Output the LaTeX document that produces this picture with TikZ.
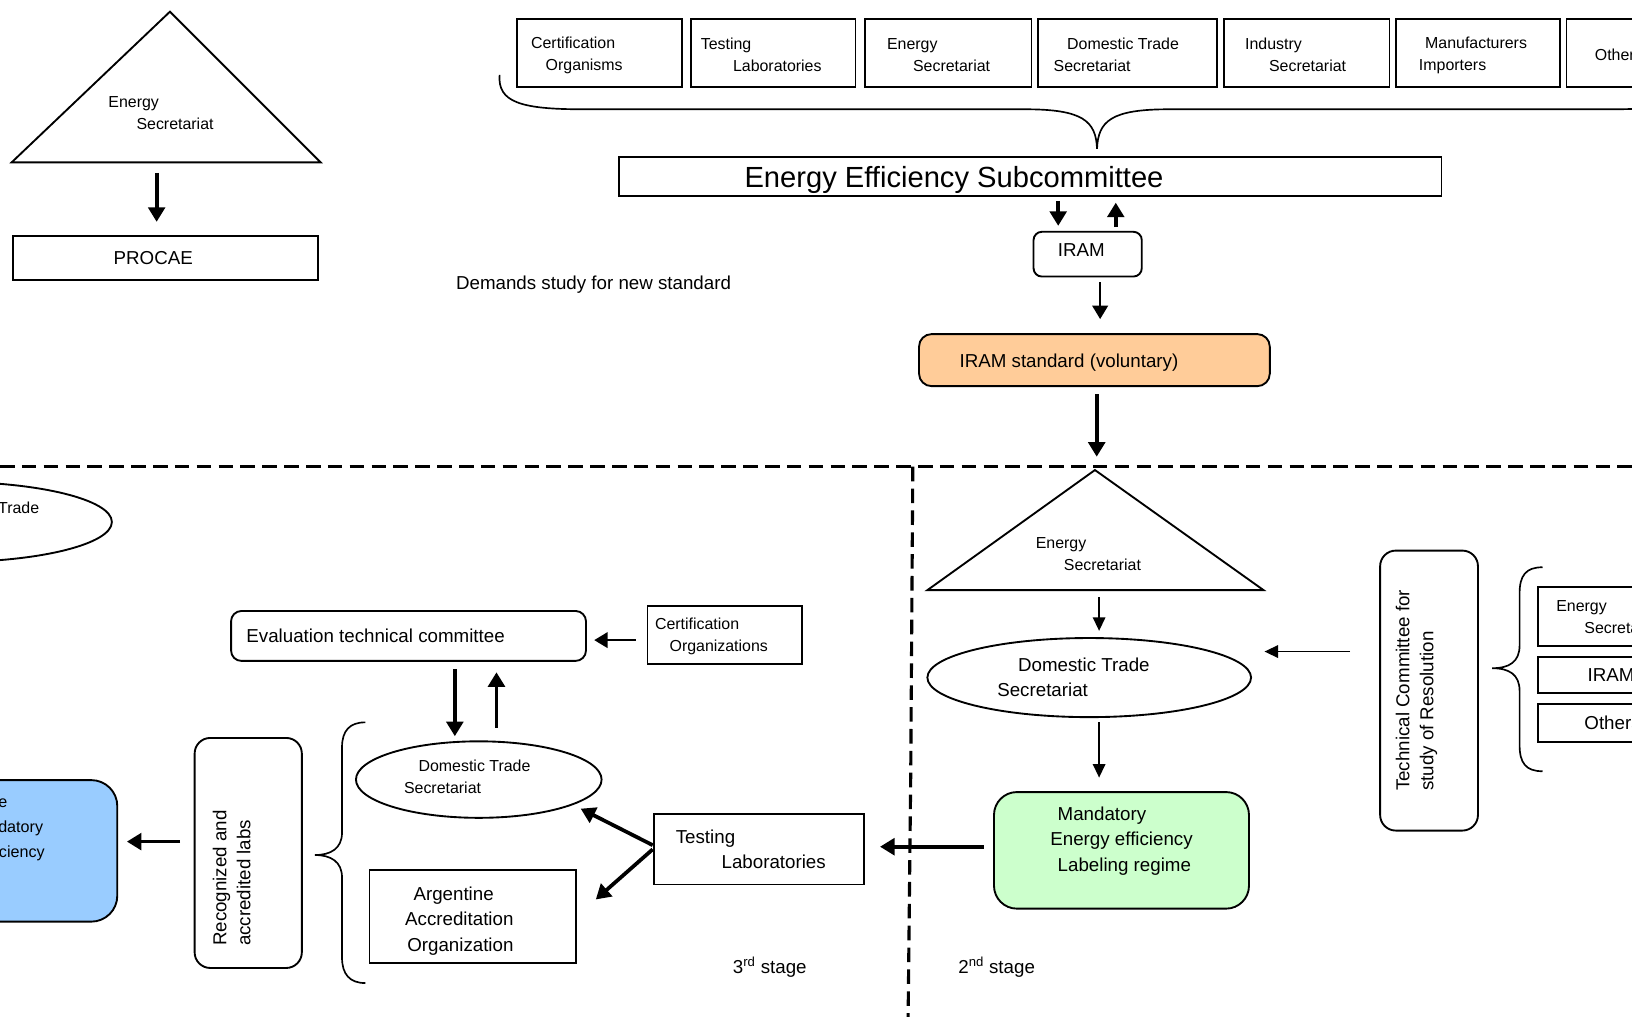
\documentclass[tikz,border=0pt]{standalone}
\usepackage{fontspec}
\setmainfont{Liberation Sans}
\usetikzlibrary{arrows.meta,positioning,shapes.geometric}

\definecolor{iramorange}{HTML}{FFCC99}
\definecolor{regimegreen}{HTML}{CCFFCC}
\definecolor{labblue}{HTML}{99CCFF}

\newcommand\smalltext{\fontsize{15.3}{21}\selectfont}
\newcommand\midtext{\fontsize{18}{24.5}\selectfont}
\newcommand\sidetext{\fontsize{18}{23}\selectfont}
\newcommand\titletext{\fontsize{28}{32}\selectfont}

\tikzset{
  frame/.style={draw, line width=1.8pt, inner sep=0pt},
  rframe/.style={frame, rounded corners=#1},
  oval/.style={draw, ellipse, line width=1.8pt, inner sep=0pt},
  stxt/.style={inner sep=0pt, align=left, font=\smalltext},
  mtxt/.style={inner sep=0pt, align=left, font=\midtext},
  vtxt/.style={inner sep=0pt, align=left, font=\sidetext, rotate=90, anchor=west},
  fat/.style={line width=3.6pt, -{Triangle[length=14pt,width=16pt]}},
  midarrow/.style={line width=2.2pt, -{Triangle[length=13pt,width=15pt]}},
  slim/.style={line width=1.5pt, -{Triangle[length=13pt,width=12pt]}},
  stageline/.style={line width=3pt, dash pattern=on 14pt off 7pt},
  brace/.style={line width=1.6pt},
}

\begin{document}
\begin{tikzpicture}[x=1pt,y=-1pt]
\useasboundingbox (0,0) rectangle (1568,977);
\clip (0,0) rectangle (1568,977);
\fill[white] (0,0) rectangle (1568,977);

% energy secretariat -> PROCAE
\coordinate (tA1) at (163.3,11.2);
\coordinate (tL1) at (11.2,156);
\coordinate (tR1) at (308,156);
\coordinate (tB1) at (150.5,156);
\draw[line width=1.8pt] (tL1) -- (tA1) -- (tR1) -- cycle;
\node[stxt, anchor=west] (es1) at (104,108.5) {Energy\\\hspace*{27pt}Secretariat};
\node[frame, minimum width=293pt, minimum height=42.5pt] (procae) at (159.4,247.8) {};
\node[mtxt, right=97pt of procae.west] (procaetxt) {PROCAE};
\draw[fat, shorten >=12.5pt] ([yshift=-10pt]tB1) -- (tB1 |- procae.north);

% members of the subcommittee
\foreach \nm/\cx/\w/\pad/\lbl in {
  cert/576/158/14/{Certification\\\hspace*{14pt}Organisms},
  test/743/158/10/{Testing\\\hspace*{31pt}Laboratories},
  ensec/911/160/22/{Energy\\\hspace*{25pt}Secretariat},
  dtsec/1083/172/16/{\hspace*{13pt}Domestic Trade\\Secretariat},
  indsec/1255.5/159/21/{Industry\\\hspace*{23pt}Secretariat},
  manuf/1420/158/23/{\hspace*{6pt}Manufacturers\\Importers},
  others/1584/158/28/{Others}}{
  \node[frame, minimum width=\w pt, minimum height=66pt] (\nm) at (\cx,51) {};
  \node[stxt, right=\pad pt of \nm.west, yshift=-2pt] (\nm txt) {\lbl};
}
\draw[brace] (480,72) .. controls (478,98) and (500,105) .. (560,105) -- (985,105)
  .. controls (1040,105) and (1053,116) .. (1054,143)
  .. controls (1055,116) and (1068,105) .. (1123,105) -- (1548,105)
  .. controls (1608,105) and (1630,98) .. (1628,72);

\node[frame, minimum width=790pt, minimum height=37pt] (subc) at (990,169.5) {};
\node[inner sep=0pt, font=\titletext, right=121pt of subc.west, yshift=-3pt] (subctxt) {Energy Efficiency Subcommittee};

\node[rframe=8pt, minimum width=104pt, minimum height=43pt] (iram) at (1045,244.2) {};
\node[mtxt, right=24pt of iram.west, yshift=4pt] (iramtxt) {IRAM};
\draw[fat, shorten <=4pt, shorten >=4.8pt] ([xshift=26.7pt]subc.south) -- ([xshift=26.7pt]subc.south |- iram.north);
\draw[fat, shorten <=3.6pt, shorten >=5.8pt] ([xshift=27pt]iram.north) -- ([xshift=27pt]iram.north |- subc.south);

\node[mtxt, anchor=west] (demand) at (438,273.5) {Demands study for new standard};

\node[rframe=12pt, fill=iramorange, minimum width=337pt, minimum height=50pt] (std) at (1051.5,346) {};
\node[mtxt, right=39.7pt of std.west, yshift=-2.5pt] (stdtxt) {IRAM standard (voluntary)};
\draw[midarrow, shorten <=4.8pt, shorten >=13.5pt] ([xshift=12pt]iram.south) -- ([xshift=12pt]iram.south |- std.north);

% stage borders
\coordinate (sepL) at (0,448.4);
\coordinate (sepR) at (1568,448.4);
\coordinate (sepT) at (877,448.4);
\coordinate (sepK) at (875,745);
\coordinate (sepB) at (872.5,977);
\draw[stageline] (sepL) -- (sepR);
\draw[stageline] (sepT) -- (sepK) -- (sepB);

% 2nd stage
\coordinate (tA2) at (1052,451.6);
\coordinate (tL2) at (891,567);
\coordinate (tR2) at (1214,567);
\coordinate (tB2) at (1056,567);
\draw[line width=1.8pt] (tL2) -- (tA2) -- (tR2) -- cycle;
\draw[fat, shorten <=6.7pt, shorten >=12.8pt] ([xshift=2.2pt]std.south) -- ([xshift=2.2pt]std.south |- tA2);
\node[stxt, anchor=west] (es2) at (995,532.5) {Energy\\\hspace*{27pt}Secretariat};

\node[oval, minimum width=311pt, minimum height=76pt] (dts2) at (1046.5,651) {};
\node[mtxt, anchor=west] (dts2txt) at (958,650.5) {\hspace*{20pt}Domestic Trade\\Secretariat};
\draw[slim, shorten >=6pt] ([yshift=-7pt]tB2) -- (tB2 |- dts2.north);

\node[rframe=22pt, fill=regimegreen, minimum width=245pt, minimum height=112pt] (regime) at (1077.5,817) {};
\node[mtxt, anchor=west] (regimetxt) at (1009,808) {\hspace*{7pt}Mandatory\\Energy efficiency\\\hspace*{7pt}Labeling regime};
\draw[slim, shorten <=4pt, shorten >=13pt] ([xshift=9.5pt]dts2.south) -- ([xshift=9.5pt]dts2.south |- regime.north);

\node[rframe=15pt, minimum width=94pt, minimum height=269pt] (tcr) at (1373,663.5) {};
\node[vtxt] (tcrtxt) at (1361,760) {Technical Committee for\\study of Resolution};
\draw[slim, shorten <=28pt, shorten >=12pt] ([yshift=37.5pt]tcr.west) -- ([yshift=37.5pt]tcr.west -| dts2.east);

\draw[brace] (1482,545) .. controls (1466,545) and (1460,553) .. (1460,570) -- (1460,620)
  .. controls (1460,636) and (1450,642) .. (1433.5,642)
  .. controls (1450,642) and (1460,648) .. (1460,664) -- (1460,716)
  .. controls (1460,733) and (1466,741) .. (1482,741);
\node[frame, minimum width=150pt, minimum height=57pt] (resE) at (1553,592.5) {};
\node[stxt, right=18pt of resE.west] (resEtxt) {Energy\\\hspace*{27pt}Secretariat};
\node[frame, minimum width=150pt, minimum height=35pt] (resI) at (1553,648.5) {};
\node[mtxt, right=48pt of resI.west] (resItxt) {IRAM};
\node[frame, minimum width=150pt, minimum height=37pt] (resO) at (1553,694.5) {};
\node[mtxt, right=45pt of resO.west] (resOtxt) {Others};

\node[frame, minimum width=202pt, minimum height=67.5pt] (testlab) at (729,816) {};
\node[mtxt, right=22pt of testlab.west] (testlabtxt) {Testing\\\hspace*{44pt}Laboratories};
\draw[fat, shorten <=9pt, shorten >=14.6pt] ([yshift=3.5pt]regime.west) -- ([yshift=3.5pt]regime.west -| testlab.east);

\node[mtxt, anchor=west] (stage2) at (920.6,929) {2\textsuperscript{nd} stage};

% 3rd stage
\node[oval, minimum width=311pt, minimum height=77pt] (dts1) at (-48,501.5) {};
\node[stxt, anchor=west] (dts1txt) at (-90,498.5) {\hspace*{20pt}Domestic Trade\\Secretariat};

\node[rframe=10pt, minimum width=341pt, minimum height=48pt] (evalc) at (392.5,611) {};
\node[mtxt, right=15.5pt of evalc.west] (evalctxt) {Evaluation technical committee};
\node[frame, minimum width=148.5pt, minimum height=56pt] (certorg) at (696.3,610) {};
\node[stxt, right=8pt of certorg.west, yshift=-1.5pt] (certorgtxt) {Certification\\\hspace*{14pt}Organizations};
\draw[midarrow, shorten <=10.3pt, shorten >=7pt] ([yshift=-5pt]certorg.west) -- ([yshift=-5pt]certorg.west -| evalc.east);

\node[oval, minimum width=236pt, minimum height=73.5pt] (dts3) at (460,749) {};
\node[stxt, anchor=west] (dts3txt) at (388,746.5) {\hspace*{14pt}Domestic Trade\\Secretariat};
\draw[fat, shorten <=7pt, shorten >=4pt] ([xshift=44.5pt]evalc.south) -- ([xshift=44.5pt]evalc.south |- dts3.north);
\draw[fat, shorten <=12pt, shorten >=10pt] ([xshift=84.5pt]evalc.south |- dts3.north) -- ([xshift=84.5pt]evalc.south);

\node[frame, minimum width=198pt, minimum height=89pt] (argent) at (454,880.5) {};
\node[mtxt, right=35pt of argent.west, yshift=-4.5pt] (argenttxt) {\hspace*{8pt}Argentine\\Accreditation\\\hspace*{2pt}Organization};
\draw[fat, shorten >=8pt] ([yshift=4pt]testlab.west) -- (dts3.-15);
\draw[fat, shorten >=24.7pt] (testlab.west) -- (argent.east);

\draw[brace] (351,694) .. controls (336,694) and (328.6,702) .. (328.6,718) -- (328.6,800)
  .. controls (328.6,815) and (318,821.5) .. (302.6,821.5)
  .. controls (318,821.5) and (328.6,828) .. (328.6,843) -- (328.6,920)
  .. controls (328.6,936) and (336,944.5) .. (351,944.5);

\node[rframe=15pt, minimum width=103pt, minimum height=221pt] (recog) at (238.5,819.5) {};
\node[vtxt] (recogtxt) at (222.5,909) {Recognized and\\accredited labs};
\node[rframe=25pt, fill=labblue, minimum width=245pt, minimum height=136pt] (mandlab) at (-9.8,817.5) {};
\node[stxt, anchor=west, font=\fontsize{15.5}{24}\selectfont] (mandlabtxt) at (-75,796) {\hspace*{6pt}Start of the\\\hspace*{43pt}Mandatory\\Energy efficiency};
\draw[fat, shorten <=13pt, shorten >=8.3pt] ([yshift=10.9pt]recog.west) -- ([yshift=10.9pt]recog.west -| mandlab.east);

\node[mtxt, anchor=west] (stage3) at (704,929) {3\textsuperscript{rd} stage};
\end{tikzpicture}
\end{document}
